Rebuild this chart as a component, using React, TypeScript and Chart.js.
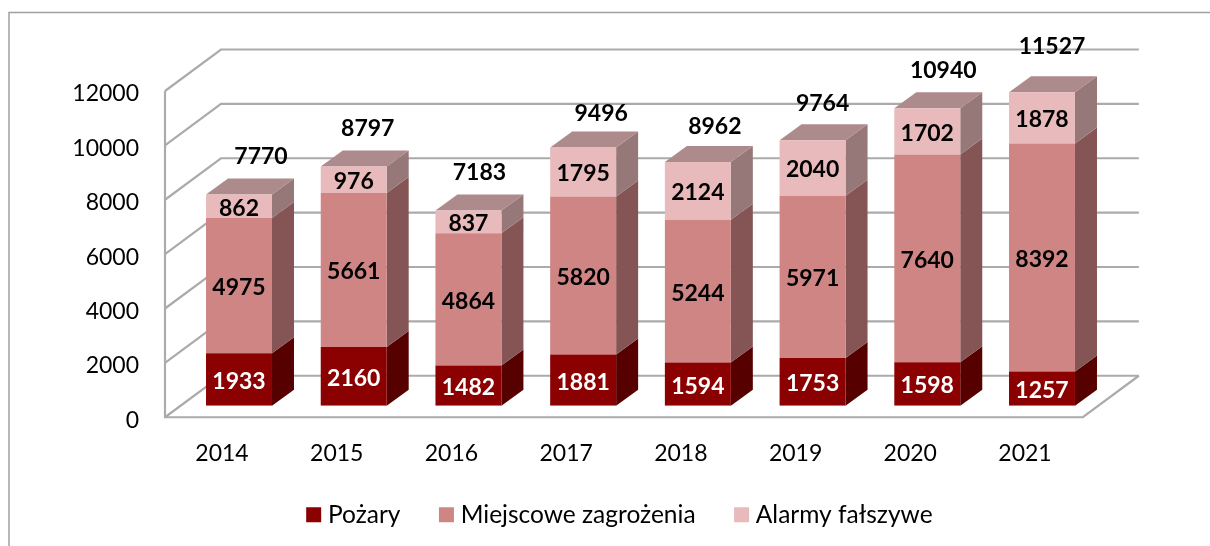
import React, { useEffect, useRef } from "react";
import { Chart, registerables } from "chart.js";

Chart.register(...registerables);

const years = ["2014", "2015", "2016", "2017", "2018", "2019", "2020", "2021"];
const pozary = [1933, 2160, 1482, 1881, 1594, 1753, 1598, 1257];
const miejscowe = [4975, 5661, 4864, 5820, 5244, 5971, 7640, 8392];
const alarmy = [862, 976, 837, 1795, 2124, 2040, 1702, 1878];
const totals = [7770, 8797, 7183, 9496, 8962, 9764, 10940, 11527];

// hand-placed offsets of the total labels, relative to the bar's top centre
const totalDx = [22, 14, 11, 18, 17, 10, 16, 10];
const totalDy = [-38, -38, -38, -34, -36, -37, -38, -46];

const FONT = "Lato, Carlito, sans-serif";
const DEPTH_X = 22;
const DEPTH_Y = 16;
const FRONT_DROP = 11.5;
const BACK_RISE = 30;
const WALL_DX = 56;
const WALL_LEFT = 165;

const FRONT = ["#8B0000", "#D08585", "#E8BABC"];
const SIDE = ["#560000", "#855555", "#967878"];
const TOP = "#AD8A8B";
const GRID = "#ABABAB";

const scene = {
  id: "scene",
  afterLayout(chart: any) {
    const legend = chart.legend;
    legend.left += 42.45;
    legend.right += 42.45;
    legend.top -= 8.25;
    legend.bottom -= 8.25;
  },
  beforeDatasetsDraw(chart: any) {
    const { ctx } = chart;
    const y = chart.scales.y;
    const x = chart.scales.x;
    const backLeft = WALL_LEFT + WALL_DX;
    const frontRight = x.right - 16.5;
    const backRight = frontRight + WALL_DX;
    ctx.save();
    // frame: only the left and top edges are visible
    ctx.strokeStyle = "#A0A0A0";
    ctx.lineWidth = 1.5;
    ctx.beginPath();
    ctx.moveTo(9, chart.height);
    ctx.lineTo(9, 12.5);
    ctx.lineTo(chart.width, 12.5);
    ctx.stroke();
    // walls
    ctx.strokeStyle = GRID;
    ctx.lineWidth = 2.2;
    const ticks = y.ticks.map((t: any) => t.value);
    ticks.forEach((v: number) => {
      const p = y.getPixelForValue(v);
      ctx.beginPath();
      ctx.moveTo(WALL_LEFT, p + FRONT_DROP);
      ctx.lineTo(backLeft, p - BACK_RISE);
      ctx.lineTo(backRight, p - BACK_RISE);
      ctx.stroke();
    });
    const p0 = y.getPixelForValue(0);
    const pTop = y.getPixelForValue(ticks[ticks.length - 1]);
    ctx.beginPath();
    ctx.moveTo(WALL_LEFT, pTop + FRONT_DROP);
    ctx.lineTo(WALL_LEFT, p0 + FRONT_DROP);
    ctx.lineTo(frontRight, p0 + FRONT_DROP);
    ctx.lineTo(backRight, p0 - BACK_RISE);
    ctx.stroke();
    // bar side and top faces
    const last = chart.data.datasets.length - 1;
    chart.data.datasets.forEach((_: any, di: number) => {
      chart.getDatasetMeta(di).data.forEach((bar: any) => {
        const { x: cx, y: top, base, width } = bar.getProps(["x", "y", "base", "width"], true);
        const r = cx + width / 2;
        const l = cx - width / 2;
        ctx.fillStyle = SIDE[di];
        ctx.beginPath();
        ctx.moveTo(r, top);
        ctx.lineTo(r + DEPTH_X, top - DEPTH_Y);
        ctx.lineTo(r + DEPTH_X, base - DEPTH_Y);
        ctx.lineTo(r, base);
        ctx.closePath();
        ctx.fill();
        if (di === last) {
          ctx.fillStyle = TOP;
          ctx.beginPath();
          ctx.moveTo(l, top);
          ctx.lineTo(l + DEPTH_X, top - DEPTH_Y);
          ctx.lineTo(r + DEPTH_X, top - DEPTH_Y);
          ctx.lineTo(r, top);
          ctx.closePath();
          ctx.fill();
        }
      });
    });
    ctx.restore();
  },
  afterDatasetsDraw(chart: any) {
    const { ctx } = chart;
    ctx.save();
    ctx.textAlign = "center";
    ctx.textBaseline = "middle";
    ctx.font = `bold 23px ${FONT}`;
    chart.data.datasets.forEach((ds: any, di: number) => {
      chart.getDatasetMeta(di).data.forEach((bar: any, i: number) => {
        const { x: cx, y: top, base } = bar.getProps(["x", "y", "base"], true);
        ctx.fillStyle = di === 0 ? "#FFFFFF" : "#000000";
        ctx.fillText(String(ds.data[i]), cx, (top + base) / 2 + 2);
      });
    });
    const meta = chart.getDatasetMeta(chart.data.datasets.length - 1);
    ctx.fillStyle = "#000000";
    meta.data.forEach((bar: any, i: number) => {
      const { x: cx, y: top } = bar.getProps(["x", "y"], true);
      ctx.fillText(String(totals[i]), cx + totalDx[i], top + totalDy[i]);
    });
    ctx.restore();
  },
};

export default function App() {
  const ref = useRef<HTMLCanvasElement>(null);
  useEffect(() => {
    document.body.style.margin = "0";
    const chart = new Chart(ref.current as HTMLCanvasElement, {
      type: "bar",
      data: {
        labels: years,
        datasets: [
          { label: "Pożary", data: pozary, backgroundColor: FRONT[0], borderWidth: 0 },
          { label: "Miejscowe zagrożenia", data: miejscowe, backgroundColor: FRONT[1], borderWidth: 0 },
          { label: "Alarmy fałszywe", data: alarmy, backgroundColor: FRONT[2], borderWidth: 0 },
        ],
      },
      options: {
        responsive: false,
        animation: false,
        layout: {
          autoPadding: false,
          padding: { left: 60, right: 110.65, top: 79.5, bottom: 0.75 },
        },
        datasets: { bar: { barPercentage: 0.575, categoryPercentage: 1 } },
        scales: {
          x: {
            stacked: true,
            grid: { display: false, drawTicks: false },
            border: { display: false },
            afterFit: (s: any) => { s.height = 61; },
            ticks: {
              padding: 34,
              labelOffset: -17,
              color: "#000000",
              maxRotation: 0,
              font: { family: FONT, size: 23 },
            },
          },
          y: {
            stacked: true,
            min: 0,
            max: 12000,
            grid: { display: false, drawTicks: false },
            border: { display: false },
            afterFit: (s: any) => { s.width = 121.65; },
            ticks: {
              stepSize: 2000,
              padding: 42.65,
              labelOffset: 14.5,
              color: "#000000",
              font: { family: FONT, size: 23 },
              callback: (v: any) => String(v),
            },
          },
        },
        plugins: {
          tooltip: { enabled: false },
          legend: {
            position: "bottom",
            maxHeight: 79.5,
            labels: {
              boxWidth: 4,
              boxHeight: 4,
              padding: 44,
              color: "#000000",
              font: { family: FONT, size: 24.5 },
              generateLabels: (c: any) =>
                Chart.defaults.plugins.legend.labels.generateLabels(c).map((it: any) => ({
                  ...it,
                  strokeStyle: it.fillStyle,
                  lineWidth: 11,
                })),
            },
          },
        },
      },
      plugins: [scene],
    } as any);
    return () => chart.destroy();
  }, []);
  return <canvas ref={ref} width={1210} height={546} style={{ display: "block" }} />;
}
